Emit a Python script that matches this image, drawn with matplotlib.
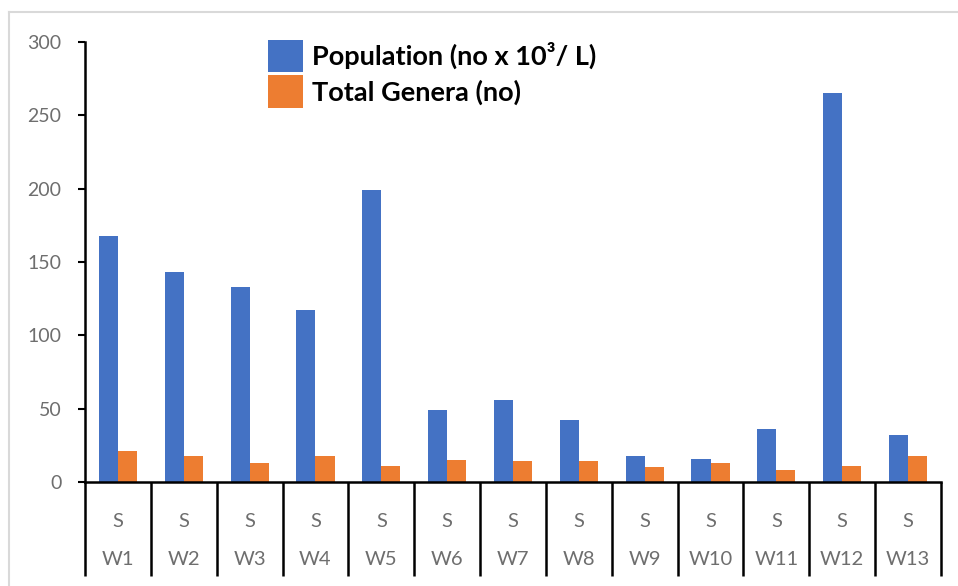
import matplotlib
matplotlib.use('Agg')
import numpy as np
from matplotlib import pyplot as plt
from matplotlib.lines import Line2D
from matplotlib.transforms import blended_transform_factory

sites = ['W1', 'W2', 'W3', 'W4', 'W5', 'W6', 'W7', 'W8', 'W9', 'W10', 'W11', 'W12', 'W13']
season = ['S'] * 13
population = [168, 143, 133, 117, 199, 49, 56, 42, 18, 16, 36, 265, 32]
genera = [21, 18, 13, 18, 11, 15, 14, 14, 10, 13, 8, 11, 18]

blue = '#4472C4'
orange = '#ED7D31'
grey = '#6e6e6e'

plt.rcParams['font.family'] = ['Lato', 'DejaVu Sans']

fig = plt.figure(figsize=(9.58, 5.86), dpi=100)
ax = fig.add_axes([85/958, 1-482/586, (941-85)/958, 440/586])

x = np.arange(len(sites))
w = 0.29
ax.bar(x - w/2, population, w, color=blue, label='Population (no x 10³/ L)')
ax.bar(x + w/2, genera, w, color=orange, label='Total Genera (no)')

ax.set_xlim(-0.5, len(sites) - 0.5)
ax.set_ylim(0, 300)
ax.set_yticks(range(0, 301, 50))
ax.tick_params(axis='y', labelsize=14, labelcolor=grey, length=5, width=1.5, pad=12)

for s in ['top', 'right']:
    ax.spines[s].set_visible(False)
for s in ['left', 'bottom']:
    ax.spines[s].set_linewidth(1.8)

# two-level category axis
ax.set_xticks(x)
ax.set_xticklabels(season)
ax.set_xticks(np.arange(-0.5, len(sites)), minor=True)
ax.tick_params(axis='x', which='major', length=0, labelsize=14.5, labelcolor=grey, pad=22)
ax.tick_params(axis='x', which='minor', length=68, width=1.8, direction='out')
trans = blended_transform_factory(ax.transData, ax.transAxes)
for xi, lab in zip(x, sites):
    ax.text(xi, -0.177, lab, transform=trans, ha='center', va='center',
            fontsize=14.5, color=grey)

leg = ax.legend(loc='upper left', bbox_to_anchor=(0.185, 1.06), frameon=False,
                prop={'weight': 'bold', 'size': 19.5}, handlelength=1.3,
                handleheight=1.45, handletextpad=0.35, labelspacing=0.12,
                borderpad=0.4)

# chart frame
fig.add_artist(Line2D([9/958, 1], [1-12/586, 1-12/586], color='#d9d9d9', lw=1.5))
fig.add_artist(Line2D([9/958, 9/958], [0, 1-12/586], color='#d9d9d9', lw=1.5))

fig.savefig('out.png', dpi=100)
